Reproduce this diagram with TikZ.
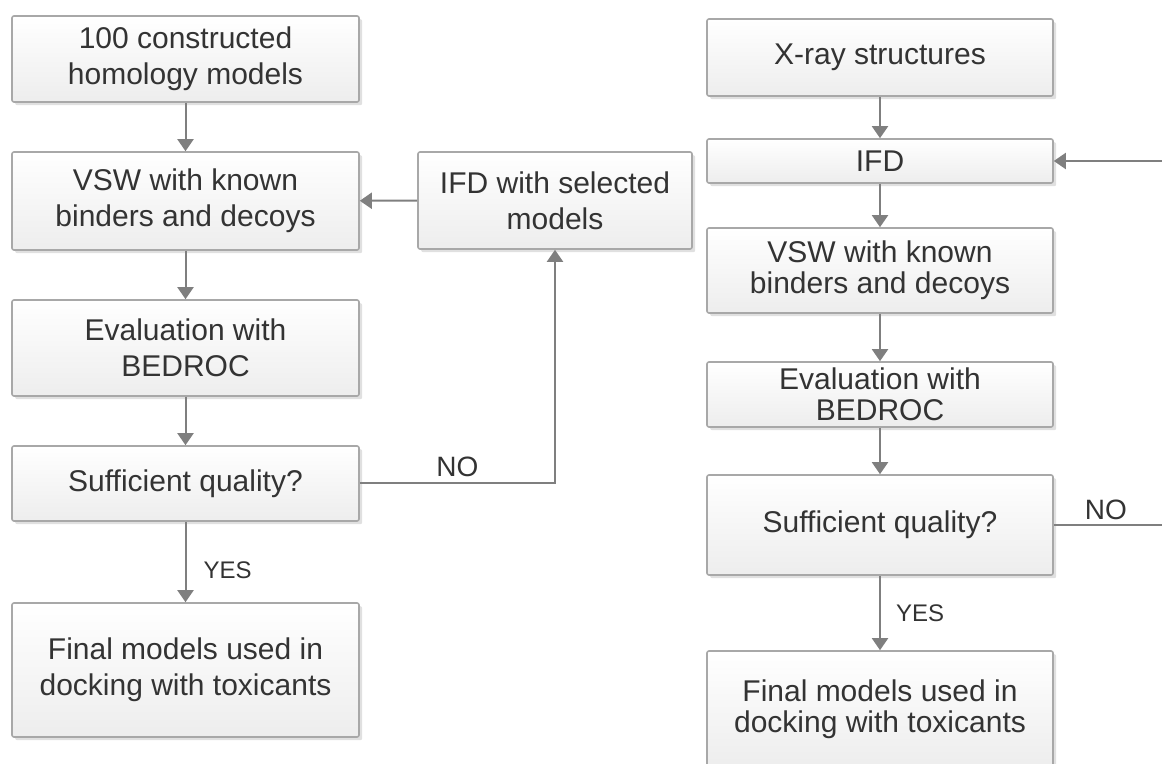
\documentclass[tikz,border=0pt]{standalone}
\usepackage{fontspec}
\setmainfont{Liberation Sans}
\usepackage{tikz}
\usetikzlibrary{arrows.meta,shadows}
\definecolor{linegray}{HTML}{7F7F7F}
\definecolor{boxgray}{HTML}{A8A8A8}
\definecolor{textgray}{HTML}{333333}

\begin{document}
\begin{tikzpicture}[x=0.5pt, y=-0.5pt,
    box/.style={draw=boxgray, line width=0.8pt, rounded corners=1pt, top color=white, bottom color=gray!14,
        drop shadow={shadow xshift=1.6pt, shadow yshift=-1.6pt, fill=black, opacity=0.12},
        inner sep=0pt, align=center, text=textgray},
    lbox/.style={box, minimum width=173.5pt, font=\fontsize{15}{18}\selectfont},
    rbox/.style={box, minimum width=173pt, font=\fontsize{15}{15.5}\selectfont},
    arr/.style={draw=linegray, line width=1pt, -{Triangle[width=8pt, length=6pt]}},
    yes/.style={inner sep=0pt, text=textgray, font=\fontsize{12}{14}\selectfont},
    no/.style={inner sep=0pt, text=textgray, font=\fontsize{14}{16}\selectfont}]
        \useasboundingbox (0,0) rectangle (1162,764);

        % left column: homology models
        \node[lbox, minimum height=43pt] (hom) at (185.5,59) {100 constructed\\homology models};
        \node[lbox, minimum height=49pt] (vswL) at (185.5,201) {VSW with known\\binders and decoys};
        \node[lbox, minimum height=48pt] (evalL) at (185.5,348) {Evaluation with\\BEDROC};
        \node[lbox, minimum height=37.5pt] (qualL) at (185.5,483.5) {Sufficient quality?};
        \node[lbox, minimum height=67pt] (finalL) at (185.5,670) {Final models used in\\docking with toxicants};
        \node[lbox, minimum width=137pt, minimum height=48.5pt] (ifdsel) at (555,200.5) {IFD with selected\\models};

        \draw[arr] (hom) -- (vswL);
        \draw[arr] (vswL) -- (evalL);
        \draw[arr] (evalL) -- (qualL);
        \draw[arr] (qualL) -- node[pos=0.6, right=8.5pt, yes] {YES} (finalL);
        \draw[arr] (qualL.east) -| node[pos=0.25, above=3pt, no] {NO} (ifdsel.south);
        \draw[arr] (ifdsel) -- (vswL);

        % right column: X-ray structures
        \node[rbox, minimum height=38.5pt] (xray) at (880,57.5) {X-ray structures};
        \node[rbox, minimum height=22pt] (ifd) at (880,161) {IFD};
        \node[rbox, minimum height=42.5pt] (vswR) at (880,270.5) {VSW with known\\binders and decoys};
        \node[rbox, minimum height=32.5pt] (evalR) at (880,394.5) {Evaluation with\\BEDROC};
        \node[rbox, minimum height=50pt] (qualR) at (880,525) {Sufficient quality?};
        \node[rbox, minimum height=58pt] (finalR) at (880,709) {Final models used in\\docking with toxicants};
        \coordinate (loopin) at (1175,161);
        \coordinate (loopout) at (1175,525);

        \draw[arr] (xray) -- (ifd);
        \draw[arr] (ifd) -- (vswR);
        \draw[arr] (vswR) -- (evalR);
        \draw[arr] (evalR) -- (qualR);
        \draw[arr] (qualR) -- node[pos=0.5, right=7.5pt, yes] {YES} (finalR);
        \draw[draw=linegray, line width=1pt] (qualR.east) -- node[pos=0.43, above=2pt, no] {NO} (loopout);
        \draw[arr] (loopin) -- (ifd.east);
\end{tikzpicture}
\end{document}
